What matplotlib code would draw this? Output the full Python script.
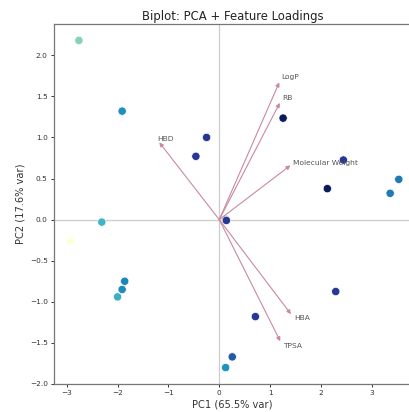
import numpy as np
import matplotlib
matplotlib.use("Agg")
import matplotlib.pyplot as plt

# PCA scores (PC1, PC2) and colour value per compound
pc1 = [-2.93, -2.76, -2.31, -2.00, -1.91, -1.91, -1.86,
       -0.46, -0.25, 0.13, 0.14, 0.125, 0.255, 0.71,
       1.255, 2.125, 2.29, 2.44, 3.36, 3.53]
pc2 = [-0.26, 2.18, -0.03, -0.94, 1.32, -0.85, -0.75,
       0.77, 1.00, 0.00, -0.01, -1.80, -1.67, -1.18,
       1.235, 0.377, -0.875, 0.725, 0.32, 0.49]
color_val = [0.00, 0.36, 0.50, 0.52, 0.63, 0.64, 0.65,
             0.86, 0.86, 0.95, 0.86, 0.62, 0.76, 0.86,
             1.00, 1.00, 0.86, 0.86, 0.68, 0.68]

# feature loadings (scaled arrow tips)
features = ["LogP", "RB", "Molecular Weight", "HBA", "TPSA", "HBD"]
load_x = [1.18, 1.19, 1.40, 1.41, 1.20, -1.18]
load_y = [1.67, 1.42, 0.66, -1.15, -1.48, 0.94]

fig = plt.figure(figsize=(4.09, 4.12), dpi=100)
ax = fig.add_axes([54 / 409, 28 / 412, 357 / 409, 360 / 412])

ax.axhline(0, color='#cccccc', linewidth=0.9, zorder=0)
ax.axvline(0, color='#cccccc', linewidth=0.9, zorder=0)

ax.scatter(pc1, pc2, c=color_val, cmap='YlGnBu', vmin=0, vmax=1, s=36,
           edgecolors='white', linewidths=0.5, zorder=2)

for name, lx, ly in zip(features, load_x, load_y):
    ax.annotate('', xy=(lx, ly), xytext=(0, 0),
                arrowprops=dict(arrowstyle='-|>', color='#c98a9c', lw=0.8,
                                mutation_scale=6, shrinkA=0, shrinkB=0),
                zorder=3)
    ax.text(lx * 1.04, ly * 1.04, name, fontsize=5.4, color='#555555',
            ha='left', va='center', zorder=4)

ax.set_xlim(-3.25, 3.77)
ax.set_ylim(-2.0, 2.38)
ax.set_xticks([-3, -2, -1, 0, 1, 2, 3])
ax.set_yticks([-2.0, -1.5, -1.0, -0.5, 0.0, 0.5, 1.0, 1.5, 2.0])
ax.set_yticklabels(['\u22122.0', '\u22121.5', '\u22121.0', '\u22120.5', '0.0',
                    '0.5', '1.0', '1.5', '2.0'])

for side in ['left', 'bottom', 'top', 'right']:
    ax.spines[side].set_color('#777777')
    ax.spines[side].set_linewidth(0.9)
ax.tick_params(labelsize=5.3, colors='#333333', length=2.5, width=0.7,
               pad=2)

ax.set_xlabel('PC1 (65.5% var)', fontsize=7.1, color='#333333', labelpad=2)
ax.set_ylabel('PC2 (17.6% var)', fontsize=7.1, color='#333333', labelpad=3)
ax.set_title('Biplot: PCA + Feature Loadings', fontsize=8.4,
             color='#222222', pad=3)

fig.savefig('out.png', dpi=100)
